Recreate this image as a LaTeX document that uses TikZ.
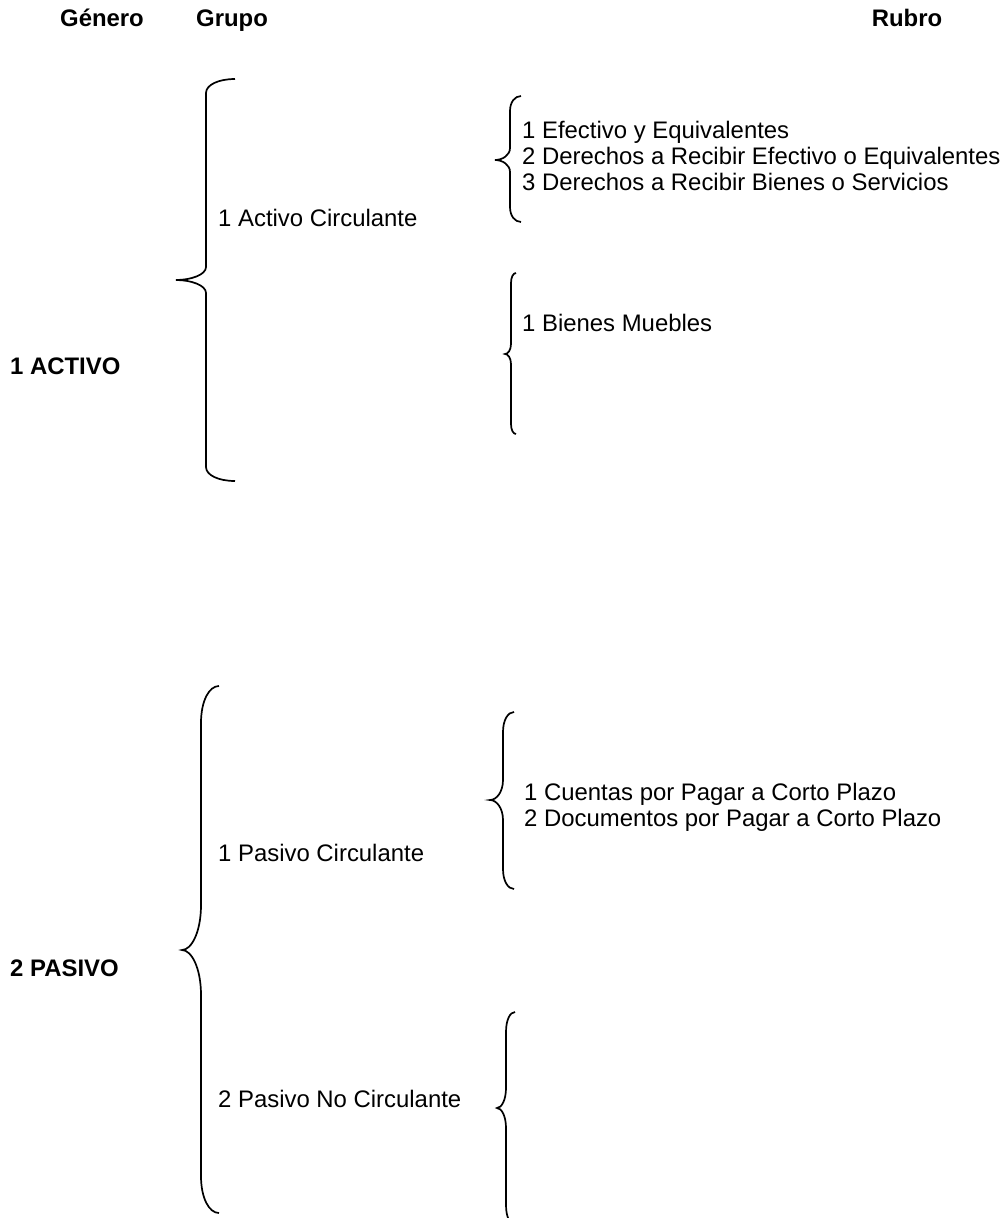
\documentclass[tikz,border=0pt]{standalone}
\usepackage{fontspec}
\setmainfont{Liberation Sans}

% llave: x extremos, x recta, x punta, y arriba, y punta, y abajo, curva extremos, curva punta
\newcommand{\llave}[8]{%
  \draw[llave] (#1,#4) .. controls ({#2+0.45*(#1-#2)},#4) and (#2,{#4+0.4*#7}) .. (#2,{#4+#7})
    -- (#2,{#5-#8}) .. controls (#2,{#5-0.4*#8}) and ({#3+0.5*(#2-#3)},#5) .. (#3,#5)
    .. controls ({#3+0.5*(#2-#3)},#5) and (#2,{#5+0.4*#8}) .. (#2,{#5+#8})
    -- (#2,{#6-#7}) .. controls (#2,{#6-0.4*#7}) and ({#2+0.45*(#1-#2)},#6) .. (#1,#6);}

\begin{document}
\begin{tikzpicture}[x=1pt, y=-1pt,
    texto/.style={anchor=base west, inner sep=0pt, font=\fontsize{23.9}{26}\selectfont},
    titulo/.style={anchor=base, inner sep=0pt, font=\fontsize{23.9}{26}\selectfont\bfseries},
    llave/.style={line width=1.7pt}]
    
    \useasboundingbox (0,0) rectangle (1005,1218);
    
    % encabezados
    \node[titulo] (genero) at (102,27) {Género};
    \node[titulo] (grupo) at (232,27) {Grupo};
    \node[titulo] (rubro) at (907,27) {Rubro};
    
    % 1 ACTIVO
    \node[titulo,anchor=base west] (activo) at (10,374) {1 ACTIVO};
    \llave{235}{206}{176}{79}{280}{481}{14}{13}
    \node[texto] (actcirc) at (218,226) {1 Activo Circulante};
    \llave{521}{510}{495}{96}{160}{222}{15}{12}
    \foreach \t [count=\i] in {1 Efectivo y Equivalentes,
        2 Derechos a Recibir Efectivo o Equivalentes,
        3 Derechos a Recibir Bienes o Servicios}
    \node[texto] (ac\i) at (522,{112+26*\i}) {\t};
    \llave{516}{511}{505}{273}{354}{434}{10}{10}
    \node[texto] (bienes) at (522,331) {1 Bienes Muebles};
    
    % 2 PASIVO
    \node[titulo,anchor=base west] (pasivo) at (10,976) {2 PASIVO};
    \llave{219}{201}{182}{686}{950}{1213}{37}{45}
    \node[texto] (pascirc) at (218,861) {1 Pasivo Circulante};
    \node[texto] (pasnocirc) at (218,1107) {2 Pasivo No Circulante};
    \llave{514}{503}{490}{712}{800}{889}{20}{20}
    \foreach \t [count=\i] in {1 Cuentas por Pagar a Corto Plazo,
        2 Documentos por Pagar a Corto Plazo}
    \node[texto] (pc\i) at (524,{774+26*\i}) {\t};
    \llave{515}{506}{497}{1012}{1108}{1225}{20}{20}
    
\end{tikzpicture}
\end{document}
